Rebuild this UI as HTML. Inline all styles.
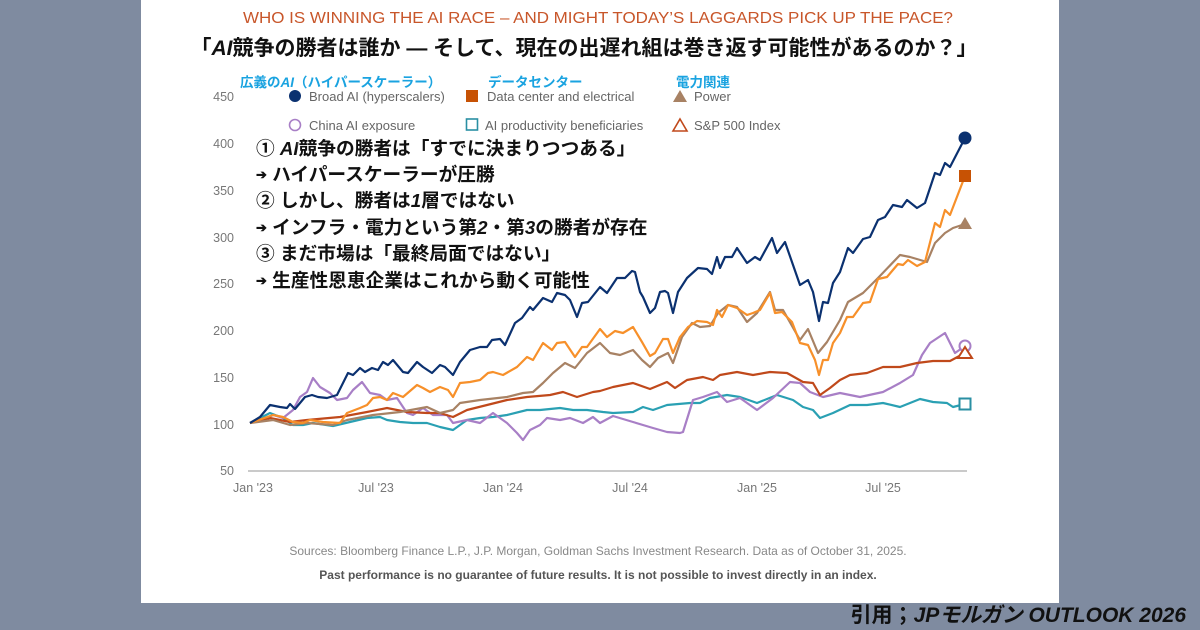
<!DOCTYPE html>
<html><head><meta charset="utf-8"><style>
html,body{margin:0;padding:0;}
body{width:1200px;height:630px;background:#7f8ba0;position:relative;overflow:hidden;font-family:"Liberation Sans","Noto Sans CJK JP",sans-serif;}
#panel{position:absolute;left:141px;top:0;width:918px;height:603px;background:#fff;}
.t{position:absolute;white-space:nowrap;}
.ann{font-weight:bold;font-size:18.7px;color:#111;text-shadow:0 0 3px #fff,0 0 3px #fff,0 0 3px #fff;}
</style></head><body>
<div id="panel"></div>
<svg width="1200" height="630" style="position:absolute;left:0;top:0" font-family="Liberation Sans, Noto Sans CJK JP, sans-serif">
<g font-size="12.5" fill="#777" text-anchor="end">
<text x="234" y="101">450</text><text x="234" y="148">400</text><text x="234" y="195">350</text><text x="234" y="242">300</text><text x="234" y="288">250</text><text x="234" y="335">200</text><text x="234" y="382">150</text><text x="234" y="429">100</text><text x="234" y="475">50</text>
</g>
<line x1="248" y1="471" x2="967" y2="471" stroke="#aaa" stroke-width="1.2"/>
<g font-size="12.5" fill="#777" text-anchor="middle">
<text x="253" y="492">Jan '23</text><text x="376" y="492">Jul '23</text><text x="503" y="492">Jan '24</text><text x="630" y="492">Jul '24</text><text x="757" y="492">Jan '25</text><text x="883" y="492">Jul '25</text>
</g>
<g fill="none" stroke-width="2.2" stroke-linejoin="round">
<polyline stroke="#2aa0b3" points="250,423 270,413 283,418 293,425 303,425 313,423 333,426 350,422 367,418 380,417 387,420 400,422 413,423 427,423 440,427 453,430 467,420 480,418 493,417 507,415 527,410 540,410 560,408 573,410 587,410 603,412 613,413 633,412 643,407 653,410 667,405 690,403 700,403 710,398 727,395 740,397 757,403 777,395 793,400 803,407 813,410 820,418 833,413 850,405 867,405 883,403 900,407 920,399 933,402 947,403 953,407 965,404"/>
<polyline stroke="#a87fc6" points="250,423 267,418 273,415 283,418 293,410 300,397 307,392 313,378 320,387 330,393 337,400 347,398 353,390 362,382 370,393 380,395 387,400 397,398 407,413 413,415 423,408 433,415 447,415 453,423 467,420 480,423 493,413 507,423 517,433 523,440 530,430 540,425 547,418 560,420 570,418 583,423 593,417 600,423 613,416 633,422 653,428 667,432 680,433 683,432 693,400 703,397 717,392 727,402 740,398 757,410 773,398 790,382 800,383 810,392 823,397 840,393 860,397 883,392 900,383 913,375 922,355 930,343 945,333 955,353 965,346"/>
<polyline stroke="#c0491b" points="250,423 270,418 290,422 307,420 340,417 367,412 387,408 407,412 427,413 440,413 453,417 467,410 487,405 507,400 527,397 550,395 563,392 577,397 593,392 600,391 613,387 633,383 650,389 667,382 675,388 687,380 703,377 713,380 720,375 737,372 753,375 770,372 787,373 803,382 813,383 820,395 830,388 840,380 850,375 867,373 883,367 900,367 917,363 933,361 950,361 965,353"/>
<polyline stroke="#a88264" points="250,423 273,420 290,425 307,423 333,425 347,420 373,415 400,412 427,407 440,413 453,410 460,403 480,400 507,397 523,393 533,392 543,383 553,373 565,363 575,368 587,353 600,343 610,353 620,355 633,350 642,360 650,367 658,358 668,353 673,363 682,337 692,323 700,327 710,326 718,313 728,305 737,307 747,322 757,313 770,292 775,310 783,310 800,340 808,329 818,353 827,342 840,320 848,302 863,293 878,278 900,255 910,257 927,262 935,243 945,233 953,228 965,224"/>
<polyline stroke="#f7902a" points="250,423 273,415 283,417 293,422 303,423 310,420 323,422 340,423 347,413 360,408 367,405 373,398 380,397 387,400 393,393 403,397 417,385 423,388 430,392 440,387 448,390 453,397 460,383 470,382 480,380 488,373 493,372 503,375 517,367 527,357 533,360 543,343 552,350 557,343 565,342 575,357 582,347 587,347 600,329 607,337 615,331 623,333 633,327 642,342 650,356 655,353 663,339 668,339 673,353 680,337 688,327 697,321 707,322 713,325 717,310 722,317 728,305 737,308 747,315 753,313 760,310 770,293 775,313 782,312 792,322 800,343 808,345 815,360 819,375 823,360 828,360 833,343 840,333 847,317 853,317 863,303 870,302 878,279 887,277 898,264 903,265 908,260 917,266 925,262 935,223 940,227 945,210 950,215 965,176"/>
<polyline stroke="#0b3170" points="250,423 260,417 270,405 280,407 287,408 290,404 295,409 305,397 312,395 318,397 327,398 337,395 348,373 353,375 360,368 365,372 372,368 378,370 383,362 388,365 393,360 403,372 408,373 417,362 423,367 432,373 440,365 445,367 453,375 460,362 470,350 480,347 487,347 492,340 500,339 505,345 515,323 522,318 530,307 533,310 543,298 552,302 557,293 565,295 570,300 577,317 582,303 588,302 600,287 607,293 617,278 625,278 632,271 635,272 640,292 643,297 650,313 655,308 660,292 665,291 668,293 673,313 678,292 687,278 698,268 707,269 712,274 717,257 720,268 725,257 732,257 737,248 747,263 755,257 760,260 772,238 777,253 785,242 800,285 808,280 813,292 819,321 823,302 828,303 833,283 840,272 848,248 853,253 863,239 870,237 878,220 885,217 893,205 902,207 907,200 917,208 925,203 935,173 940,175 945,163 950,167 965,138"/>
</g>
<circle cx="965" cy="138" r="6.5" fill="#0b3170"/>
<rect x="959" y="170" width="12" height="12" fill="#c75204"/>
<polygon points="965,217 972,229 958,229" fill="#a88264"/>
<circle cx="965" cy="346" r="5.5" fill="#fff" stroke="#a87fc6" stroke-width="2"/>
<polygon points="965,347 972,358 958,358" fill="#fff" stroke="#c0491b" stroke-width="2"/>
<rect x="959.5" y="398.5" width="11" height="11" fill="#fff" stroke="#2a8fa3" stroke-width="2"/>
<circle cx="295" cy="96" r="6" fill="#0b3170"/>
<rect x="466" y="90" width="12" height="12" fill="#c75204"/>
<polygon points="680,90 687,102 673,102" fill="#a88264"/>
<circle cx="295" cy="125" r="5.5" fill="#fff" stroke="#a87fc6" stroke-width="1.6"/>
<rect x="466.5" y="119" width="11" height="11" fill="#fff" stroke="#2a8fa3" stroke-width="1.6"/>
<polygon points="680,119 687,131 673,131" fill="#fff" stroke="#c0491b" stroke-width="1.6"/>
<g font-size="13" fill="#666">
<text x="309" y="101">Broad AI (hyperscalers)</text>
<text x="487" y="101">Data center and electrical</text>
<text x="694" y="101">Power</text>
<text x="309" y="130">China AI exposure</text>
<text x="485" y="130">AI productivity beneficiaries</text>
<text x="694" y="130">S&amp;P 500 Index</text>
</g>
<g font-size="13.5" font-weight="bold" fill="#1aa3e0">
<text x="240" y="87">広義の<tspan font-style="italic">AI</tspan>（ハイパースケーラー）</text>
<text x="488" y="87">データセンター</text>
<text x="676" y="87">電力関連</text>
</g>
<text x="243" y="23" font-size="16" fill="#c8562a" textLength="710" lengthAdjust="spacingAndGlyphs">WHO IS WINNING THE AI RACE – AND MIGHT TODAY’S LAGGARDS PICK UP THE PACE?</text>
<text x="584" y="55" text-anchor="middle" font-size="21" font-weight="bold" fill="#111">「<tspan font-style="italic">AI</tspan>競争の勝者は誰か — そして、現在の出遅れ組は巻き返す可能性があるのか？」</text>
<text x="598" y="555" text-anchor="middle" font-size="12" fill="#888">Sources: Bloomberg Finance L.P., J.P. Morgan, Goldman Sachs Investment Research. Data as of October 31, 2025.</text>
<text x="598" y="579" text-anchor="middle" font-size="12" font-weight="bold" fill="#555">Past performance is no guarantee of future results. It is not possible to invest directly in an index.</text>
<text x="1186" y="622" text-anchor="end" font-size="21" font-weight="bold" fill="#111">引用；<tspan font-style="italic">JPモルガン OUTLOOK 2026</tspan></text>
</svg>
<div class="t ann" style="left:256px;top:134px">① <i>AI</i>競争の勝者は「すでに決まりつつある」</div>
<div class="t ann" style="left:256px;top:160px"><span style="font-size:13px;vertical-align:2px">➔</span> ハイパースケーラーが圧勝</div>
<div class="t ann" style="left:256px;top:186px">② しかし、勝者は<i>1</i>層ではない</div>
<div class="t ann" style="left:256px;top:213px"><span style="font-size:13px;vertical-align:2px">➔</span> インフラ・電力という第<i>2</i>・第<i>3</i>の勝者が存在</div>
<div class="t ann" style="left:256px;top:239px">③ まだ市場は「最終局面ではない」</div>
<div class="t ann" style="left:256px;top:266px"><span style="font-size:13px;vertical-align:2px">➔</span> 生産性恩恵企業はこれから動く可能性</div>
</body></html>
